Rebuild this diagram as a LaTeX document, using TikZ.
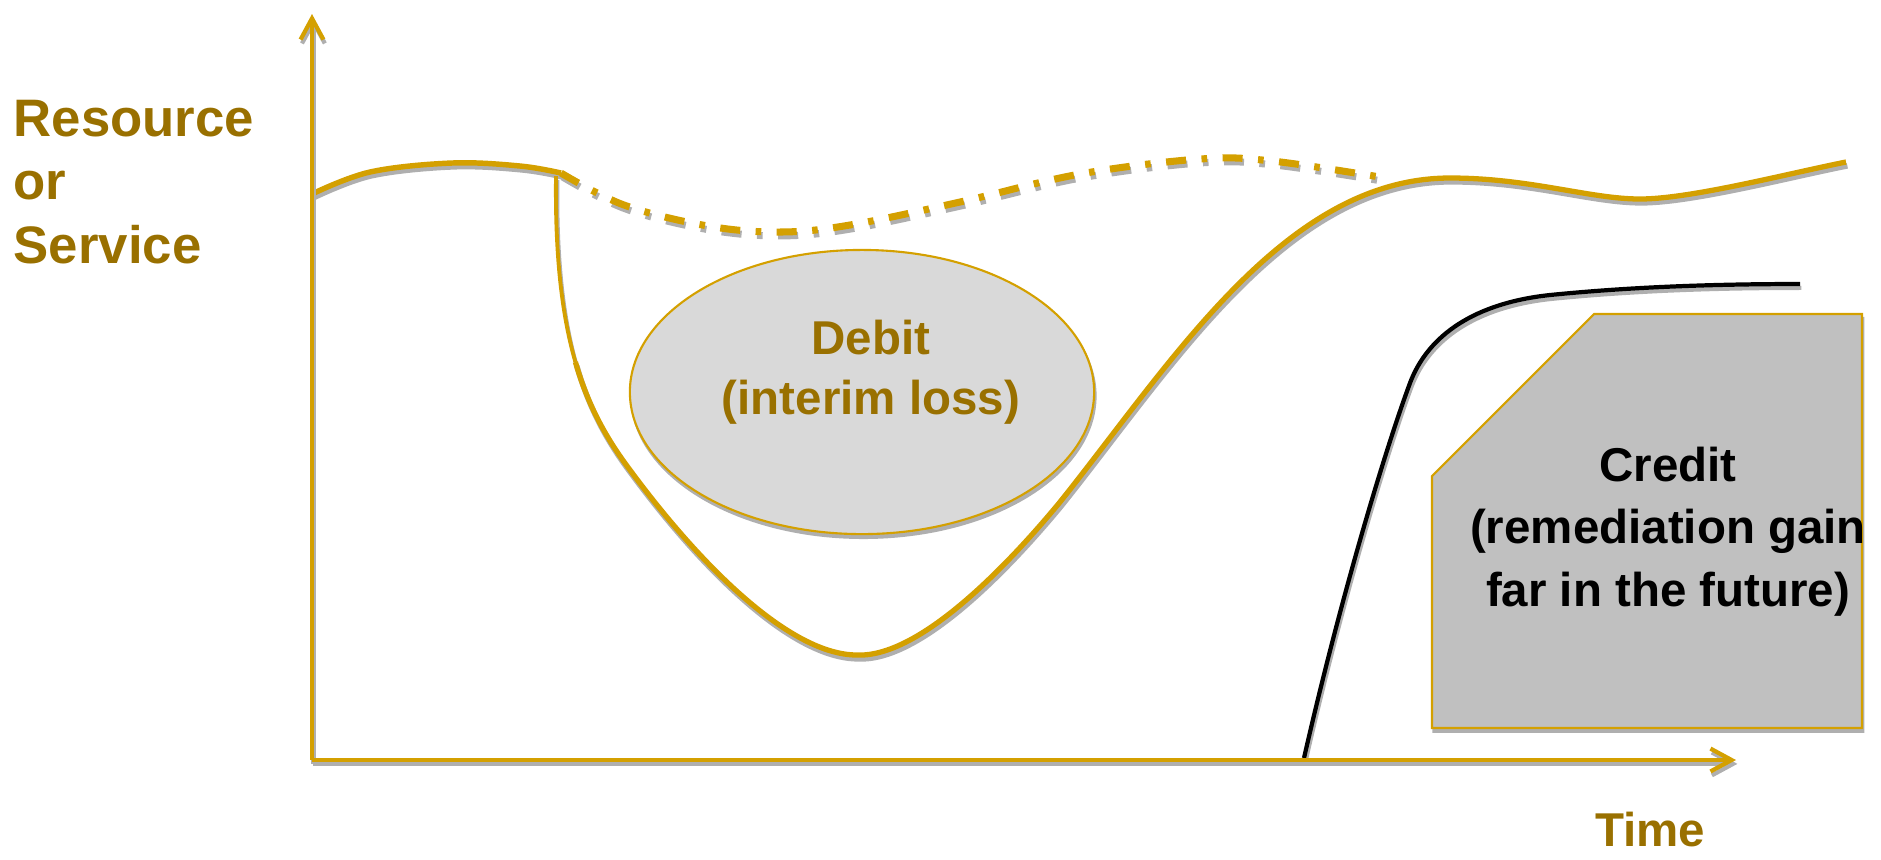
\documentclass[tikz,border=0pt]{standalone}
\usepackage{fontspec}
\setmainfont{Liberation Sans}
\usetikzlibrary{arrows.meta,shapes.geometric}
\definecolor{gold}{RGB}{212,160,0}
\definecolor{goldtext}{RGB}{153,112,0}
\definecolor{shade}{RGB}{175,175,175}
\definecolor{debitfill}{RGB}{217,217,217}
\definecolor{creditfill}{RGB}{192,192,192}
\begin{document}
\begin{tikzpicture}[x=0.01cm,y=-0.01cm,
  lineshadow/.style={preaction={draw=shade, line width=#1, transform canvas={xshift=0.4pt,yshift=-1.1pt}}},
  fillshadow/.style={preaction={fill=shade, draw=shade, line width=0.6pt, transform canvas={xshift=0.4pt,yshift=-1.1pt}}},
  axisline/.style={draw=gold, line width=1.2pt, lineshadow=1.2pt, -{Straight Barb[length=6pt,width=6.5pt]}},
  goldcurve/.style={draw=gold, line width=1.55pt, lineshadow=1.55pt},
  thincurve/.style={draw=gold, line width=1.1pt, lineshadow=1.1pt},
  dashcurve/.style={draw=gold, line width=2pt, dash pattern=on 5.7pt off 4.4pt on 1.6pt off 4.4pt,
    preaction={draw=shade, line width=2pt, dash pattern=on 5.7pt off 4.4pt on 1.6pt off 4.4pt, transform canvas={xshift=0.4pt,yshift=-1.1pt}}},
  blackcurve/.style={draw=black, line width=1.2pt, lineshadow=1.2pt},
  debitbox/.style={ellipse, draw=gold, line width=0.6pt, fill=debitfill, fillshadow, minimum width=4.64cm, minimum height=2.84cm, inner sep=0pt},
  creditbox/.style={draw=gold, line width=0.6pt, fill=creditfill, fillshadow},
  bigtxt/.style={font=\fontsize{15pt}{18pt}\selectfont\bfseries, text=goldtext, inner sep=0pt},
  goldtxt/.style={font=\fontsize{13.5pt}{17pt}\selectfont\bfseries, text=goldtext, inner sep=0pt},
  blacktxt/.style={font=\fontsize{13.5pt}{17.7pt}\selectfont\bfseries, text=black, inner sep=0pt}]
\useasboundingbox (0,0) rectangle (1881,859);

% credit box
\draw[creditbox] (1594,314) -- (1862,314) -- (1862,728) -- (1432,728) -- (1432,476) -- cycle;
\node[blacktxt, anchor=base, align=center] (credittext) at (1668,606) {Credit\\(remediation gain\\far in the future)};

% debit ellipse
\node[debitbox] (debit) at (862,392) {};
\node[goldtxt, anchor=base, align=center] (debittext) at (871,414) {Debit\\(interim loss)};

% baseline curve (solid then dash-dot)
\draw[goldcurve] plot[smooth, tension=0.6] coordinates {(312,194) (370,172) (452,163) (520,166) (561,173)};
\draw[dashcurve] plot[smooth, tension=0.6] coordinates {(561,173) (624,205) (708,226) (780,232) (850,225) (960,202) (1080,174) (1200,159) (1272,161) (1386,178)};

% loss and recovery curve
\draw[thincurve] (556,176) .. controls (555,258) and (562.25,316.5) .. (575.4,362);
\draw[goldcurve, line width=1.5pt] (575.4,362)
  .. controls (588.5,407.5) and (607.5,440) .. (630,470)
  .. controls (700,565) and (790,655) .. (857,655)
  .. controls (925,658) and (1022,548) .. (1060,502)
  .. controls (1172,362) and (1285,178) .. (1450,178)
  .. controls (1530,178) and (1590,199) .. (1640,199)
  .. controls (1690,199) and (1786,174) .. (1846,162);

% remediation curve
\draw[blackcurve] (1304,758)
  .. controls (1340,600) and (1385,450) .. (1410,383)
  .. controls (1428,335) and (1475,303) .. (1550,295)
  .. controls (1620,288) and (1700,284) .. (1800,284);

% axes
\coordinate (origin) at (312,760);
\coordinate (ytop) at (312,14);
\coordinate (xend) at (1736,760);
\draw[axisline] (origin) -- (ytop);
\draw[axisline] (origin) -- (xend);

% labels
\node[bigtxt, anchor=base west, align=left] (ylabel) at (13,263) {Resource\\or\\Service};
\node[goldtxt, anchor=base] (xlabel) at (1650,846) {Time};
\end{tikzpicture}
\end{document}
